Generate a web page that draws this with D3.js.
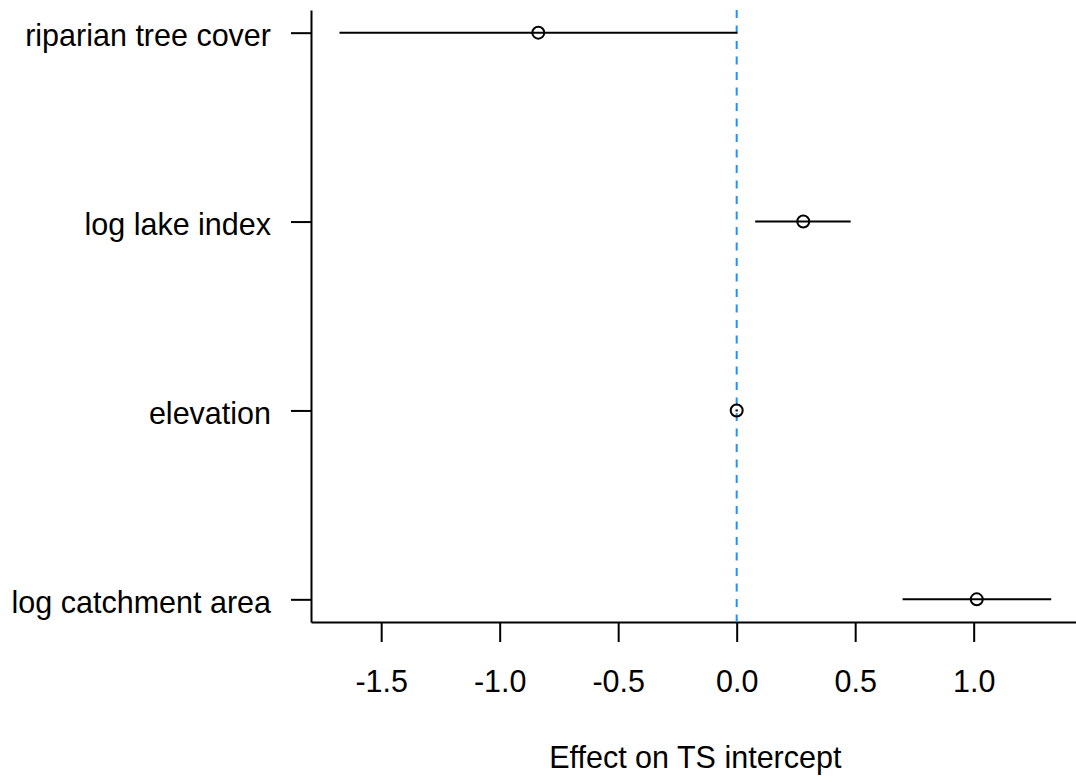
<!DOCTYPE html>
<html>
<head>
<meta charset="utf-8">
<script src="https://cdn.jsdelivr.net/npm/d3@7"></script>
<style>
  html, body { margin: 0; padding: 0; background: #fff; }
  svg { display: block; }
  text { font-family: "Liberation Sans", Arial, sans-serif; fill: #000; }
</style>
</head>
<body>
<svg id="chart" width="1076" height="778"></svg>
<script>
// ---- data ----
const categories = ["log catchment area", "elevation", "log lake index", "riparian tree cover"];
const estimates  = [1.013, 0.000, 0.281, -0.837];
const lowerCI    = [0.700, -0.005, 0.078, -1.676];
const upperCI    = [1.327, 0.005, 0.481, 0.003];
const xTicks     = [-1.5, -1.0, -0.5, 0.0, 0.5, 1.0];
const refLine    = 0;
const xLabel     = "Effect on TS intercept";

// ---- layout ----
const plotLeft = 311, plotTop = 10, plotBottom = 622;
const xmin = d3.min(lowerCI), xmax = d3.max(upperCI);
const xpad = 0.04 * (xmax - xmin);
const pxPerUnit = 237;
const plotRight = plotLeft + (xmax - xmin + 2 * xpad) * pxPerUnit;

const svg = d3.select("#chart");
const x = d3.scaleLinear().domain([xmin - xpad, xmax + xpad]).range([plotLeft, plotRight]);
const n = categories.length;
const y = d3.scaleLinear().domain([1 - 0.04 * (n - 1), n + 0.04 * (n - 1)]).range([plotBottom, plotTop]);

const fontSize = 30.5;

// x axis
const xAxis = d3.axisBottom(x).tickValues(xTicks).tickSize(20).tickSizeOuter(0)
  .tickPadding(28).tickFormat(d => d.toFixed(1));
const gx = svg.append("g").attr("transform", `translate(0,${plotBottom})`).call(xAxis);
gx.select(".domain").attr("stroke", "#000").attr("stroke-width", 2);
gx.selectAll(".tick line").attr("stroke", "#000").attr("stroke-width", 2);
gx.selectAll(".tick text").attr("font-size", fontSize)
  .attr("font-family", "Liberation Sans, Arial, sans-serif").attr("fill", "#000");

// y axis
const yAxis = d3.axisLeft(y).tickValues(d3.range(1, n + 1)).tickSize(20).tickSizeOuter(0)
  .tickPadding(20).tickFormat(d => categories[d - 1]);
const gy = svg.append("g").attr("transform", `translate(${plotLeft},0)`).call(yAxis);
gy.select(".domain").attr("stroke", "#000").attr("stroke-width", 2);
gy.selectAll(".tick line").attr("stroke", "#000").attr("stroke-width", 2);
gy.selectAll(".tick text").attr("font-size", fontSize).attr("dy", "0.42em")
  .attr("font-family", "Liberation Sans, Arial, sans-serif").attr("fill", "#000");

// reference dashed line
svg.append("line")
  .attr("x1", x(refLine)).attr("x2", x(refLine))
  .attr("y1", plotTop).attr("y2", plotBottom)
  .attr("stroke", "#1E90FF").attr("stroke-width", 2)
  .attr("stroke-dasharray", "8,7.5");

// data
const rows = categories.map((c, i) => ({ c, i: i + 1, est: estimates[i], lo: lowerCI[i], hi: upperCI[i] }));

svg.append("g").selectAll("line").data(rows).join("line")
  .attr("x1", d => x(d.lo)).attr("x2", d => x(d.hi))
  .attr("y1", d => y(d.i)).attr("y2", d => y(d.i))
  .attr("stroke", "#000").attr("stroke-width", 2);

svg.append("g").selectAll("circle").data(rows).join("circle")
  .attr("cx", d => x(d.est)).attr("cy", d => y(d.i)).attr("r", 6)
  .attr("fill", "none").attr("stroke", "#000").attr("stroke-width", 2);

// x label
svg.append("text")
  .attr("x", (plotLeft + plotRight) / 2).attr("y", 768)
  .attr("text-anchor", "middle").attr("font-size", fontSize)
  .text(xLabel);
</script>
</body>
</html>
